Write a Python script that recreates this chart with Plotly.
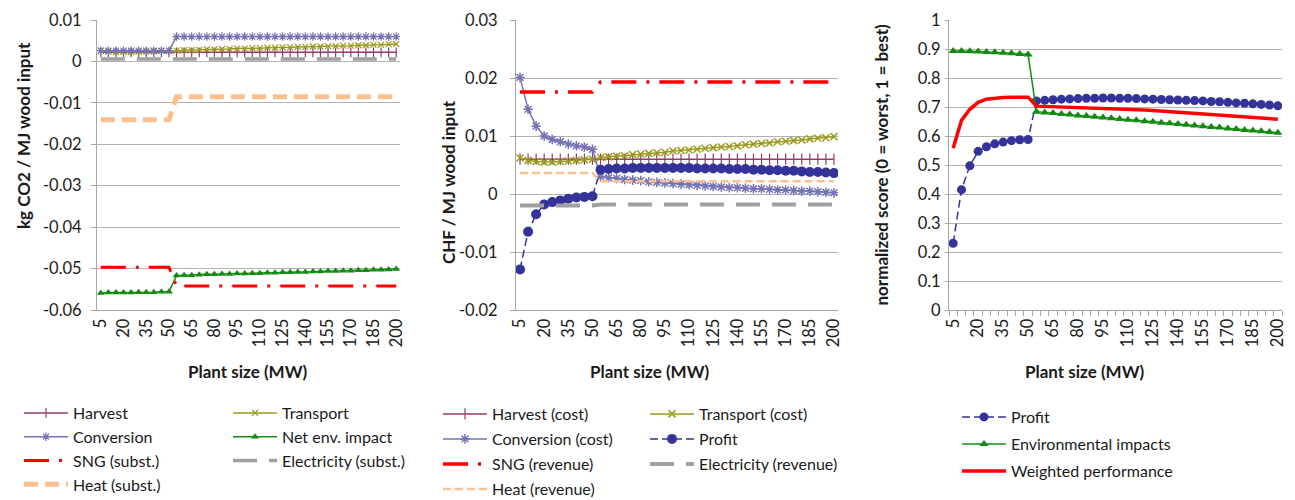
import plotly.graph_objects as go

# ---------------- data ----------------
PLANT_SIZE_MW = [5, 10, 15, 20, 25, 30, 35, 40, 45, 50,
                 55, 60, 65, 70, 75, 80, 85, 90, 95, 100,
                 105, 110, 115, 120, 125, 130, 135, 140, 145, 150,
                 155, 160, 165, 170, 175, 180, 185, 190, 195, 200]
X_TICK_LABELS = ["5", "20", "35", "50", "65", "80", "95", "110", "125",
                 "140", "155", "170", "185", "200"]

# Chart 1: kg CO2 / MJ wood input
HARVEST_CO2 = [0.0022] * 10 + [0.0022] * 30
TRANSPORT_CO2 = [0.0026, 0.0024, 0.0023, 0.0023, 0.0023, 0.0024, 0.0024, 0.0024, 0.0025, 0.0025,
                 0.0026, 0.0027, 0.0027, 0.0028, 0.0029, 0.0029, 0.0030, 0.0030, 0.0031, 0.0031,
                 0.0032, 0.0032, 0.0033, 0.0033, 0.0034, 0.0034, 0.0035, 0.0035, 0.0036, 0.0036,
                 0.0037, 0.0037, 0.0038, 0.0038, 0.0039, 0.0039, 0.0040, 0.0040, 0.0041, 0.0042]
CONVERSION_CO2 = [0.0026] * 10 + [0.0060] * 30
NET_CO2 = [-0.0559, -0.0558, -0.0558, -0.0558, -0.0558, -0.0557, -0.0557, -0.0557, -0.0556, -0.0556,
           -0.0517, -0.0516, -0.0516, -0.0515, -0.0514, -0.0514, -0.0513, -0.0513, -0.0512, -0.0512,
           -0.0511, -0.0511, -0.0510, -0.0510, -0.0509, -0.0509, -0.0508, -0.0508, -0.0507, -0.0507,
           -0.0506, -0.0506, -0.0505, -0.0505, -0.0504, -0.0504, -0.0503, -0.0503, -0.0502, -0.0501]
SNG_CO2 = [-0.0497] * 10 + [-0.0542] * 30
ELEC_CO2 = [0.0006] * 10 + [0.0006] * 30
HEAT_CO2 = [-0.0141] * 10 + [-0.0085] * 30
Y1_TICK_LABELS = ["0.01", "0", "-0.01", "-0.02", "-0.03", "-0.04", "-0.05", "-0.06"]

# Chart 2: CHF / MJ wood input
HARVEST_CHF = [0.0060] * 40
TRANSPORT_CHF = [0.0062, 0.0058, 0.0056, 0.0055, 0.0055, 0.0056, 0.0057, 0.0058, 0.0059, 0.0060,
                 0.0063, 0.0064, 0.0065, 0.0066, 0.0068, 0.0069, 0.0070, 0.0071, 0.0072, 0.0074,
                 0.0075, 0.0076, 0.0077, 0.0079, 0.0080, 0.0081, 0.0082, 0.0083, 0.0085, 0.0086,
                 0.0087, 0.0088, 0.0090, 0.0091, 0.0092, 0.0093, 0.0095, 0.0096, 0.0097, 0.0099]
CONVERSION_CHF = [0.0201, 0.0146, 0.0117, 0.0100, 0.0094, 0.0090, 0.0086, 0.0083, 0.0081, 0.0077,
                  0.0030, 0.0028, 0.0027, 0.0025, 0.0024, 0.0023, 0.0021, 0.0020, 0.0019, 0.0018,
                  0.0017, 0.0016, 0.0015, 0.0014, 0.0013, 0.0012, 0.0011, 0.0011, 0.0010, 0.0009,
                  0.0009, 0.0008, 0.0007, 0.0007, 0.0006, 0.0005, 0.0005, 0.0004, 0.0003, 0.0002]
PROFIT_CHF = [-0.0130, -0.0065, -0.0035, -0.0018, -0.0014, -0.0011, -0.0008, -0.0006, -0.0005, -0.0004,
              0.0042, 0.0043, 0.0044, 0.0044, 0.0045, 0.0045, 0.0045, 0.0045, 0.0045, 0.0045,
              0.0045, 0.0045, 0.0044, 0.0044, 0.0044, 0.0044, 0.0043, 0.0043, 0.0043, 0.0042,
              0.0042, 0.0041, 0.0041, 0.0040, 0.0040, 0.0039, 0.0038, 0.0038, 0.0037, 0.0036]
SNG_CHF = [0.0176] * 10 + [0.0193] * 30
ELEC_CHF = [-0.0020] * 10 + [-0.0018] * 30
HEAT_CHF = [0.0036] * 10 + [0.0022] * 30
Y2_TICK_LABELS = ["0.03", "0.02", "0.01", "0", "-0.01", "-0.02"]

# Chart 3: normalized score
PROFIT_SCORE = [0.230, 0.415, 0.497, 0.547, 0.563, 0.573, 0.579, 0.584, 0.587, 0.588,
                0.721, 0.723, 0.725, 0.727, 0.728, 0.729, 0.730, 0.730, 0.731, 0.731,
                0.730, 0.730, 0.729, 0.728, 0.727, 0.726, 0.725, 0.724, 0.723, 0.722,
                0.721, 0.719, 0.718, 0.716, 0.714, 0.713, 0.711, 0.709, 0.707, 0.704]
ENV_SCORE = [0.893, 0.893, 0.892, 0.891, 0.890, 0.889, 0.887, 0.885, 0.883, 0.881,
             0.684, 0.681, 0.679, 0.676, 0.674, 0.671, 0.669, 0.666, 0.664, 0.661,
             0.659, 0.656, 0.654, 0.651, 0.649, 0.646, 0.644, 0.641, 0.639, 0.636,
             0.634, 0.631, 0.629, 0.626, 0.624, 0.621, 0.619, 0.616, 0.614, 0.611]
WEIGHTED_SCORE = [0.558, 0.654, 0.692, 0.716, 0.727, 0.731, 0.733, 0.734, 0.735, 0.734,
                  0.703, 0.702, 0.702, 0.702, 0.701, 0.700, 0.700, 0.698, 0.698, 0.696,
                  0.695, 0.693, 0.692, 0.690, 0.688, 0.686, 0.685, 0.683, 0.681, 0.679,
                  0.678, 0.675, 0.674, 0.671, 0.669, 0.667, 0.665, 0.663, 0.661, 0.658]
Y3_TICK_LABELS = ["1", "0.9", "0.8", "0.7", "0.6", "0.5", "0.4", "0.3", "0.2", "0.1", "0"]

# ---------------- styling ----------------
W, H = 1295, 500
FONT = "Lato"
TXT = "#1a1a1a"
GRID = "#b3b3b3"
AXIS = "#a6a6a6"

C_HARV = "#953a6b"
C_TRAN = "#9a9a1e"
C_CONV = "#7373b5"
C_NET = "#138a13"
C_SNG = "#ff0000"
C_ELEC = "#a0a0a0"
C_HEAT = "#fac090"
C_PROF = "#333399"


def px(x):
    return x / W


def py(y):
    return 1 - y / H


fig = go.Figure()


def add(y, name, xa, ya, leg, color, width=1.5, dash="solid", symbol=None, msize=6,
        mline=None):
    m = "lines+markers" if symbol else "lines"
    marker = dict(symbol=symbol or "circle", size=msize, color=color,
                  line=dict(color=color, width=mline if mline is not None else 1))
    fig.add_trace(go.Scatter(
        x=PLANT_SIZE_MW, y=y, name=name, xaxis=xa, yaxis=ya, mode=m,
        legend=leg, legendgroup=name + xa,
        line=dict(color=color, width=width, dash=dash),
        marker=marker, showlegend=True, hoverinfo="x+y+name"))


# chart 1
add(HARVEST_CO2, "Harvest", "x", "y", "legend", C_HARV, 1.5, symbol="line-ns-open", msize=7, mline=1.2)
add(TRANSPORT_CO2, "Transport", "x", "y", "legend2", C_TRAN, 1.5, symbol="x-thin-open", msize=6, mline=1.2)
add(CONVERSION_CO2, "Conversion", "x", "y", "legend", C_CONV, 1.5, symbol="asterisk-open", msize=7, mline=1.2)
add(NET_CO2, "Net env. impact", "x", "y", "legend2", C_NET, 1.5, symbol="triangle-up", msize=7, mline=0)
add(SNG_CO2, "SNG (subst.)", "x", "y", "legend", C_SNG, 3, dash="25px,10px,3px,10px")
add(ELEC_CO2, "Electricity (subst.)", "x", "y", "legend2", C_ELEC, 3.5, dash="24px,12px")
add(HEAT_CO2, "Heat (subst.)", "x", "y", "legend", C_HEAT, 5, dash="14px,7px")

# chart 2
add(HARVEST_CHF, "Harvest (cost)", "x2", "y2", "legend3", C_HARV, 1.5, symbol="line-ns-open", msize=8, mline=1.2)
add(TRANSPORT_CHF, "Transport (cost)", "x2", "y2", "legend4", C_TRAN, 1.5, symbol="x-thin-open", msize=7, mline=1.5)
add(CONVERSION_CHF, "Conversion (cost)", "x2", "y2", "legend3", C_CONV, 1.5, symbol="asterisk-open", msize=8, mline=1.5)
add(PROFIT_CHF, "Profit", "x2", "y2", "legend4", C_PROF, 1.5, dash="8px,4px", symbol="circle", msize=10, mline=0)
add(SNG_CHF, "SNG (revenue)", "x2", "y2", "legend3", C_SNG, 3.5, dash="25px,10px,3px,10px")
add(ELEC_CHF, "Electricity (revenue)", "x2", "y2", "legend4", C_ELEC, 4, dash="24px,12px")
add(HEAT_CHF, "Heat (revenue)", "x2", "y2", "legend3", C_HEAT, 2.5, dash="8px,4px")

# chart 3
add(PROFIT_SCORE, "Profit", "x3", "y3", "legend5", C_PROF, 1.5, dash="8px,4px", symbol="circle", msize=9, mline=0)
add(ENV_SCORE, "Environmental impacts", "x3", "y3", "legend5", C_NET, 1.5, symbol="triangle-up", msize=8, mline=0)
add(WEIGHTED_SCORE, "Weighted performance", "x3", "y3", "legend5", C_SNG, 3.5)

tickfont = dict(family=FONT, size=16.5, color=TXT)


def xaxis(dom, anchor, minor=False):
    d = dict(domain=[px(dom[0]), px(dom[1])], anchor=anchor, range=[2.5, 202.5],
             tickmode="array", tickvals=[float(t) for t in X_TICK_LABELS], ticktext=X_TICK_LABELS,
             tickangle=-90, showgrid=False, zeroline=False, showline=True, linecolor=AXIS,
             linewidth=1, ticks="", tickfont=tickfont, ticklabelstandoff=1, fixedrange=True,
             automargin=False)
    if minor:
        d["minor"] = dict(ticks="outside", ticklen=5, tickcolor=AXIS, tick0=2.5, dtick=5,
                          showgrid=False)
    return d


def yaxis(labels, anchor, ticklen, standoff):
    vals = [float(v) for v in labels]
    return dict(domain=[py(310), py(20)], anchor=anchor, range=[min(vals), max(vals)],
                tickmode="array", tickvals=vals, ticktext=labels, showgrid=True,
                gridcolor=GRID, gridwidth=1, zeroline=False, showline=True, linecolor=AXIS,
                linewidth=1, ticks="outside", ticklen=ticklen, tickcolor=AXIS, tickfont=tickfont,
                ticklabelstandoff=standoff, fixedrange=True, automargin=False)


def legend(x, y, gap):
    return dict(x=px(x), y=py(y), xanchor="left", yanchor="top", orientation="v",
                bgcolor="rgba(0,0,0,0)", borderwidth=0, itemwidth=44, tracegroupgap=gap,
                font=dict(family=FONT, size=16, color=TXT), itemclick=False, itemdoubleclick=False)


title_font = dict(family=FONT, size=17, color=TXT, weight="bold")
ann = []
for cx in (248, 650, 1085):
    ann.append(dict(text="Plant size (MW)", x=px(cx), y=py(371), xref="paper", yref="paper",
                    showarrow=False, font=title_font, xanchor="center", yanchor="middle"))
ann.append(dict(text="kg CO2 / MJ wood input", x=px(23), y=py(136), xref="paper", yref="paper",
                showarrow=False, font=title_font, textangle=-90, xanchor="center", yanchor="middle"))
ann.append(dict(text="CHF / MJ wood input", x=px(448), y=py(182), xref="paper", yref="paper",
                showarrow=False, font=title_font, textangle=-90, xanchor="center", yanchor="middle"))
ann.append(dict(text="normalized score (0 = worst, 1 = best)", x=px(881), y=py(22), xref="paper",
                yref="paper", showarrow=False, font=title_font, textangle=-90, xanchor="center",
                yanchor="top"))

fig.update_layout(
    width=W, height=H, autosize=False,
    margin=dict(l=0, r=0, t=0, b=0, autoexpand=False),
    paper_bgcolor="white", plot_bgcolor="white",
    font=dict(family=FONT, color=TXT),
    xaxis=xaxis((97, 400), "y"),
    yaxis=yaxis(Y1_TICK_LABELS, "x", 5, 6),
    xaxis2=xaxis((516, 838), "y2"),
    yaxis2=yaxis(Y2_TICK_LABELS, "x2", 5, 9),
    xaxis3=xaxis((949, 1282), "y3", minor=True),
    yaxis3=yaxis(Y3_TICK_LABELS, "x3", 3, 1),
    legend=legend(19, 396, 0),
    legend2=legend(228, 396, 0),
    legend3=legend(438, 397, 1.2),
    legend4=legend(645, 397, 1.2),
    legend5=legend(957, 400, 3.2),
    annotations=ann,
    showlegend=True,
)

fig.write_html("out.html", config={"displayModeBar": False},
               post_script="document.body.style.margin='0';")
